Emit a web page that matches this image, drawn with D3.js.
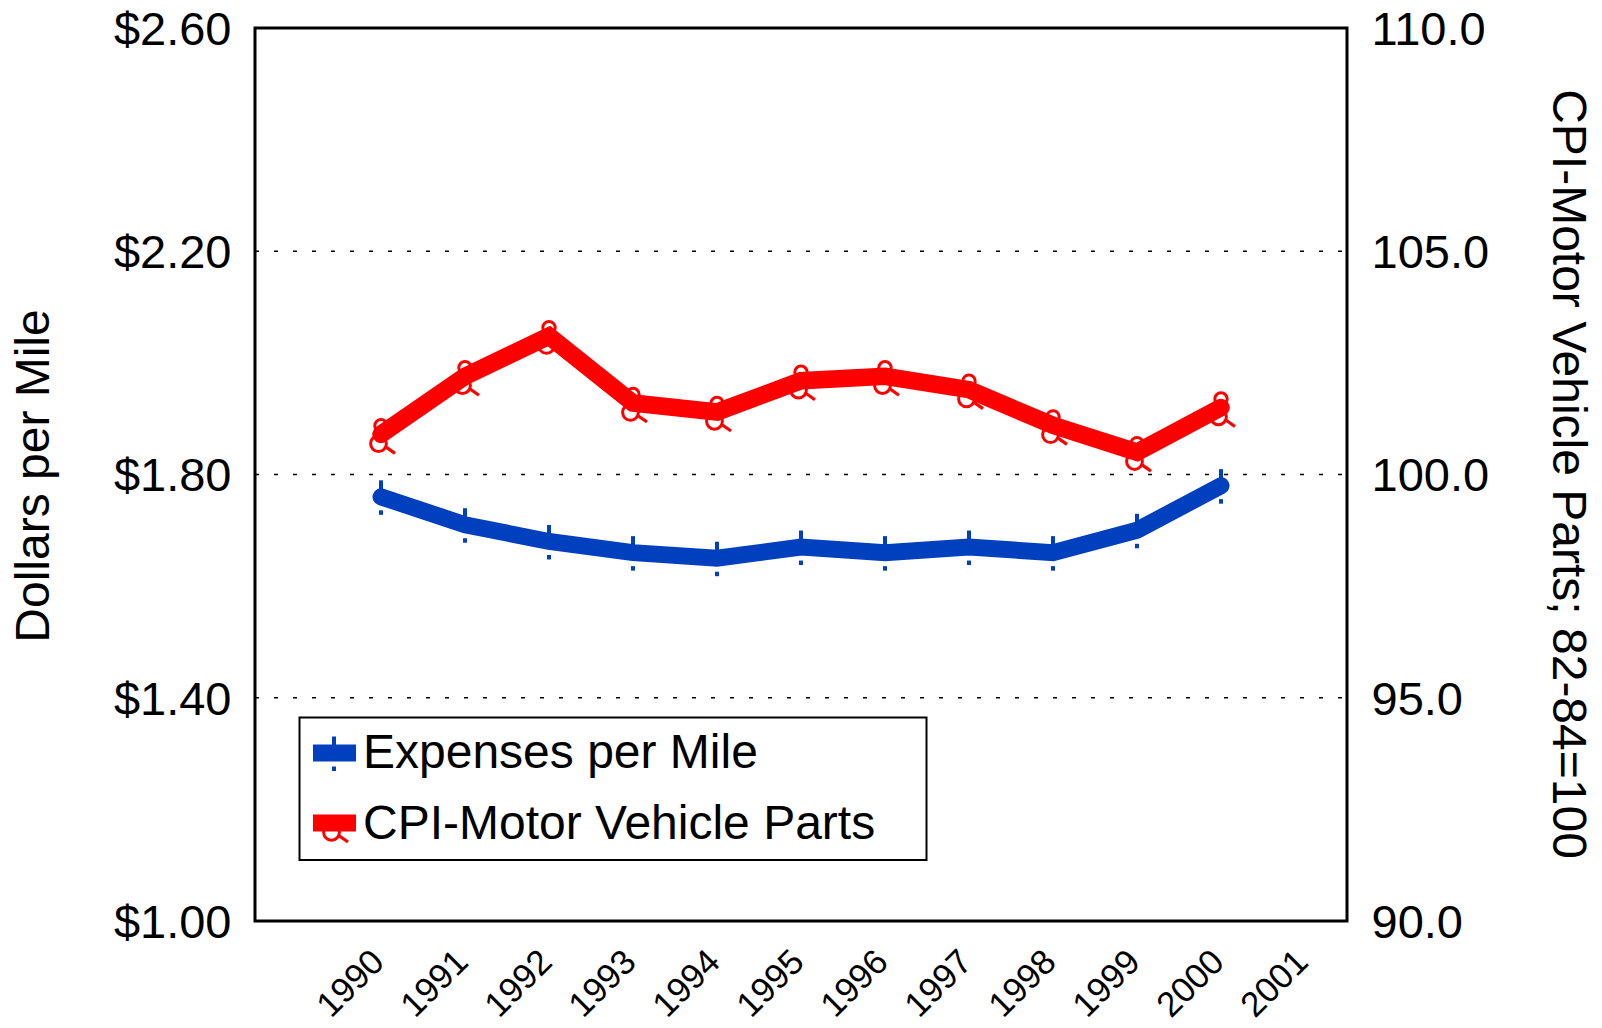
<!DOCTYPE html>
<html>
<head>
<meta charset="utf-8">
<script src="https://cdn.jsdelivr.net/npm/d3@7"></script>
<style>
  html, body { margin: 0; padding: 0; background: #fff; }
  svg { display: block; }
  text { font-family: "Liberation Sans", Arial, Helvetica, sans-serif; fill: #000; }
</style>
</head>
<body>
<svg id="chart" width="1602" height="1028"></svg>
<script>
// ---- data ----
const years = [1990, 1991, 1992, 1993, 1994, 1995, 1996, 1997, 1998, 1999, 2000];
const xTickLabels = ["1990", "1991", "1992", "1993", "1994", "1995", "1996", "1997", "1998", "1999", "2000", "2001"];
const expensesPerMile = [1.76, 1.71, 1.68, 1.66, 1.65, 1.67, 1.66, 1.67, 1.66, 1.70, 1.78];
const cpiMotorParts = [100.9, 102.2, 103.1, 101.6, 101.4, 102.1, 102.2, 101.9, 101.1, 100.5, 101.5];
const leftTicks = [1.00, 1.40, 1.80, 2.20, 2.60];
const rightTicks = [90, 95, 100, 105, 110];
const gridValues = [1.40, 1.80, 2.20];
const seriesNames = ["Expenses per Mile", "CPI-Motor Vehicle Parts"];
const leftTitle = "Dollars per Mile";
const rightTitle = "CPI-Motor Vehicle Parts; 82-84=100";

// ---- layout ----
const plot = { left: 255, right: 1347, top: 28, bottom: 921 };
const BLUE = "#0040BE", RED = "#FF0000";

const svg = d3.select("#chart");
svg.append("rect").attr("width", 1602).attr("height", 1028).attr("fill", "#fff");

const x = d3.scaleLinear().domain([1988.5, 2001.5]).range([plot.left, plot.right]);
const yL = d3.scaleLinear().domain([1.00, 2.60]).range([plot.bottom, plot.top]);
const yR = d3.scaleLinear().domain([90, 110]).range([plot.bottom, plot.top]);

// gridlines
svg.append("g").selectAll("line").data(gridValues).join("line")
  .attr("x1", plot.left).attr("x2", plot.right)
  .attr("y1", d => yL(d)).attr("y2", d => yL(d))
  .attr("stroke", "#000").attr("stroke-width", 1.6)
  .attr("stroke-dasharray", "4,15");

// left axis labels
const leftAxis = d3.axisLeft(yL).tickValues(leftTicks).tickSize(0).tickPadding(23.5)
  .tickFormat(d => "$" + d3.format(".2f")(d));
const gL = svg.append("g").attr("transform", `translate(${plot.left},0)`).call(leftAxis);
gL.select(".domain").remove();
gL.selectAll("text").attr("font-size", 47).attr("dy", "0.35em")
  .style("font-family", '"Liberation Sans", Arial, sans-serif').attr("fill", "#000");

// right axis labels
const rightAxis = d3.axisRight(yR).tickValues(rightTicks).tickSize(0).tickPadding(24.5)
  .tickFormat(d3.format(".1f"));
const gR = svg.append("g").attr("transform", `translate(${plot.right},0)`).call(rightAxis);
gR.select(".domain").remove();
gR.selectAll("text").attr("font-size", 47).attr("dy", "0.35em")
  .style("font-family", '"Liberation Sans", Arial, sans-serif').attr("fill", "#000");

// x labels (rotated)
const xLabelYears = xTickLabels.map(Number);
svg.append("g").selectAll("text").data(xLabelYears).join("text")
  .attr("transform", d => `translate(${x(d) + 5},${964}) rotate(-45)`)
  .attr("text-anchor", "end")
  .attr("font-size", 35)
  .text((d, i) => xTickLabels[i]);

// axis titles
svg.append("text")
  .attr("transform", `translate(49,476) rotate(-90)`)
  .attr("text-anchor", "middle").attr("font-size", 48)
  .text(leftTitle);
svg.append("text")
  .attr("transform", `translate(1553,474) rotate(90)`)
  .attr("text-anchor", "middle").attr("font-size", 48)
  .text(rightTitle);

// ---- series ----
const blueData = years.map((yr, i) => ({ x: x(yr), y: yL(expensesPerMile[i]) }));
const redData = years.map((yr, i) => ({ x: x(yr), y: yR(cpiMotorParts[i]) }));
const line = d3.line().x(d => d.x).y(d => d.y);

function blueMarker(g, cx, cy) {
  g.append("rect").attr("x", cx - 2).attr("y", cy - 16.5).attr("width", 4).attr("height", 16).attr("fill", BLUE);
  g.append("rect").attr("x", cx - 2).attr("y", cy + 13.5).attr("width", 4).attr("height", 4.5).attr("fill", BLUE);
}
function redMarker(g, cx, cy, both) {
  if (both) {
    g.append("circle").attr("cx", cx).attr("cy", cy - 8.5).attr("r", 6.2)
      .attr("fill", "none").attr("stroke", RED).attr("stroke-width", 3);
  }
  g.append("circle").attr("cx", cx - 2.5).attr("cy", cy + 9.3).attr("r", 7.9)
    .attr("fill", "none").attr("stroke", RED).attr("stroke-width", 3);
  g.append("line").attr("x1", cx + 4).attr("y1", cy + 12).attr("x2", cx + 14).attr("y2", cy + 19)
    .attr("stroke", RED).attr("stroke-width", 3.2);
}

// blue
const gBlue = svg.append("g");
blueData.forEach(d => blueMarker(gBlue, d.x, d.y));
gBlue.append("path").datum(blueData).attr("d", line)
  .attr("fill", "none").attr("stroke", BLUE).attr("stroke-width", 17)
  .attr("stroke-linecap", "round").attr("stroke-linejoin", "miter");

// red
const gRed = svg.append("g");
gRed.append("path").datum(redData).attr("d", line)
  .attr("fill", "none").attr("stroke", RED).attr("stroke-width", 17.5)
  .attr("stroke-linecap", "round").attr("stroke-linejoin", "miter");
redData.forEach(d => redMarker(gRed, d.x, d.y, true));

// plot frame
svg.append("rect")
  .attr("x", plot.left).attr("y", plot.top)
  .attr("width", plot.right - plot.left).attr("height", plot.bottom - plot.top)
  .attr("fill", "none").attr("stroke", "#000").attr("stroke-width", 3);

// ---- legend ----
const lg = svg.append("g");
lg.append("rect").attr("x", 299.5).attr("y", 717.5).attr("width", 627).attr("height", 142.5)
  .attr("fill", "#fff").attr("stroke", "#000").attr("stroke-width", 2);
const rows = [
  { name: seriesNames[0], color: BLUE, ly: 753, ty: 768 },
  { name: seriesNames[1], color: RED, ly: 823, ty: 839 }
];
rows.forEach((r, i) => {
  const cx = 334;
  if (i === 0) blueMarker(lg, cx, r.ly);
  lg.append("rect").attr("x", 313).attr("y", r.ly - 8.5).attr("width", 43).attr("height", 17).attr("fill", r.color);
  if (i === 1) redMarker(lg, cx, r.ly, false);
  lg.append("text").attr("x", 363).attr("y", r.ty).attr("font-size", 48).text(r.name);
});
</script>
</body>
</html>
